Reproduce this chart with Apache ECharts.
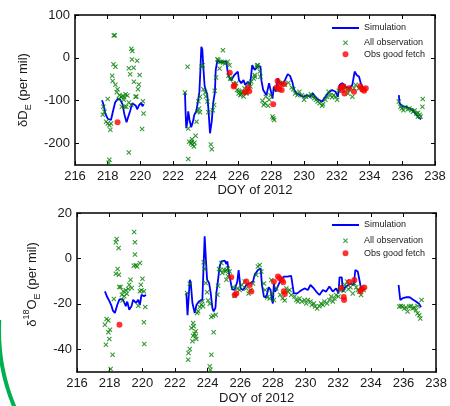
<!DOCTYPE html>
<html>
<head>
<meta charset="utf-8">
<script src="https://cdn.jsdelivr.net/npm/echarts@6/dist/echarts.min.js"></script>
<style>
  html, body { margin: 0; padding: 0; background: #fff; }
  #chart { width: 450px; height: 406px; }
</style>
</head>
<body>
<div id="chart"></div>
<script>
// tick values
const xTicks = [216, 218, 220, 222, 224, 226, 228, 230, 232, 234, 236, 238];
const dTicks = [-200, -100, 0, 100];
const oTicks = [-40, -20, 0, 20];

// --- dD panel ---
const simD1 = [[217.65,-99],[217.75,-110],[217.85,-130],[218.0,-142],[218.2,-145],[218.3,-128],[218.45,-104],[218.6,-96],[218.75,-97],[218.9,-108],[219.02,-132],[219.15,-150],[219.27,-146],[219.37,-124],[219.5,-106],[219.62,-104],[219.72,-112],[219.8,-120],[219.92,-110],[220.05,-105],[220.12,-113],[220.2,-108]];
const simD2 = [[222.72,-80],[222.76,-130],[222.8,-164],[222.86,-150],[222.92,-125],[223.0,-145],[223.1,-162],[223.2,-150],[223.3,-132],[223.42,-124],[223.52,-100],[223.6,-80],[223.66,-30],[223.72,26],[223.78,20],[223.84,-20],[223.92,-65],[224.0,-76],[224.08,-85],[224.15,-118],[224.25,-176],[224.35,-150],[224.45,-104],[224.55,-80],[224.6,-28],[224.7,-6],[224.85,-10],[225.05,-9],[225.25,-9],[225.32,-30],[225.4,-44],[225.54,-52],[225.74,-40],[225.95,-32],[226.02,-52],[226.16,-59],[226.3,-52],[226.4,-63],[226.57,-56],[226.7,-63],[226.83,-17],[226.98,-28],[227.18,-20],[227.33,-20],[227.39,-52],[227.5,-75],[227.7,-87],[227.86,-59],[227.97,-56],[228.07,-95],[228.15,-67],[228.28,-79],[228.38,-48],[228.48,-56],[228.63,-63],[228.83,-52],[229.0,-38],[229.14,-42],[229.28,-56],[229.4,-75],[229.55,-83],[229.76,-87],[229.96,-91],[230.17,-87],[230.37,-91],[230.54,-83],[230.68,-91],[230.89,-98],[231.1,-102],[231.3,-91],[231.5,-81],[231.71,-75],[231.92,-79],[232.06,-91],[232.18,-63],[232.33,-59],[232.53,-67],[232.74,-71],[232.95,-63],[233.09,-32],[233.21,-40],[233.36,-44],[233.46,-59],[233.56,-67],[233.67,-71]];
const simD3 = [[235.79,-87],[235.83,-106],[236.03,-114],[236.24,-114],[236.44,-118],[236.65,-122],[236.86,-133],[237.06,-141],[237.16,-143]];
const obsD = [
  [218.37,52],[218.43,53],[219.44,21],[219.5,16],[218.47,-21],[218.35,-15],[219.48,-4],[219.8,-7],[219.29,-24],[219.58,-23],[219.37,-38],[219.95,-40],[218.27,-42],[218.3,-54],[219.6,-56],[219.9,-62],[218.47,-63],[218.6,-73],[219.85,-73],[218.72,-87],[218.82,-91],[218.92,-89],[219.09,-85],[218.68,-96],[218.98,-98],[219.7,-91],[219.75,-90],[218.0,-96],[217.73,-114],[217.8,-126],[217.7,-133],[219.03,-114],[219.13,-114],[218.86,-114],[219.29,-104],[219.44,-110],[220.19,-130],[217.9,-149],[218.0,-153],[218.1,-157],[218.2,-153],[218.16,-168],[220.1,-166],[219.29,-221],[218.1,-238],[218.05,-245],[220.15,-101],[218.55,-80],[219.2,-88],[219.0,-92],
  [222.88,-21],[222.72,-81],[222.92,-165],[222.98,-196],[223.09,-200],[223.19,-203],[223.13,-196],[223.27,-207],[223.3,-198],[223.15,-190],[223.37,-182],[222.92,-236],[223.43,-149],[223.48,-126],[223.58,-118],[223.64,-127],[223.54,-101],[223.64,-91],[223.74,-21],[223.8,-17],[223.85,-73],[223.95,-81],[224.0,-90],[224.09,-102],[224.15,-127],[224.3,-202],[224.36,-213],[224.42,-122],[224.5,-110],[224.54,-77],[224.62,-46],[224.7,-3],[224.76,-5],[224.86,-9],[224.96,-9],[225.06,-11],[225.16,-13],[225.04,18],[224.83,-25],[225.38,-42],[225.48,-48],[225.9,-75],[226.0,-83],[226.1,-87],[226.2,-80],[226.3,-90],[226.47,-83],[226.55,-71],[226.72,-67],[226.92,-48],[227.0,-44],[227.13,-17],
  [225.33,-9],[225.44,-17],[225.54,-48],[225.68,-60],[225.85,-59],[226.01,-77],[226.16,-85],[226.26,-79],[226.36,-71],[226.5,-81],[226.63,-60],[226.77,-56],[226.98,-40],[227.12,-21],[227.18,-17],[227.29,-32],[227.33,-44],[227.45,-100],[227.53,-110],[227.6,-106],[227.66,-91],[227.8,-112],[227.86,-98],[227.95,-87],[228.07,-137],[228.17,-145],[228.12,-141],[228.32,-73],[228.52,-59],[228.68,-58],[228.83,-63],[229.04,-58],[229.24,-69],[229.34,-73],[229.45,-83],[229.59,-87],[229.71,-79],[229.86,-87],[230.0,-98],[230.12,-91],[230.27,-89],[230.42,-85],[230.54,-91],[230.62,-94],[230.74,-98],[230.83,-102],[230.95,-106],[231.1,-112],[231.16,-108],[231.3,-98],[231.4,-91],[231.5,-79],[231.61,-87],[231.71,-92],[231.81,-87],[231.92,-91],[232.02,-98],[232.12,-77],[232.23,-71],[232.33,-71],[232.43,-67],[232.6,-75],[232.68,-83],[232.8,-75],[232.95,-91],[233.05,-71],[233.15,-63],[233.36,-71],[233.46,-69],[233.56,-73],[233.67,-73],
  [235.79,-102],[235.89,-114],[235.97,-118],[236.07,-122],[236.18,-115],[236.34,-120],[236.44,-118],[236.55,-122],[236.65,-126],[236.75,-123],[236.86,-130],[236.96,-128],[237.06,-133],[237.12,-137],[237.23,-114],[237.25,-96],[236.96,-137]
];
const goodD = [[218.6,-150],[225.46,-35],[225.7,-67],[225.74,-64],[226.38,-80],[226.57,-70],[226.65,-78],[228.11,-108],[228.38,-54],[228.32,-69],[228.48,-73],[228.63,-75],[228.77,-61],[228.52,-63],[232.23,-69],[232.39,-66],[232.47,-83],[232.74,-71],[233.05,-79],[233.42,-66],[233.56,-74],[233.67,-77],[233.77,-71],[232.33,-75]];

// --- d18O panel ---
const simO1 = [[217.71,-14.5],[217.85,-17],[218.0,-19],[218.12,-21],[218.2,-23],[218.32,-24],[218.47,-20.4],[218.6,-18],[218.79,-17.9],[218.9,-19.5],[218.99,-21],[219.08,-19],[219.2,-22.6],[219.34,-21],[219.44,-18.2],[219.61,-19.6],[219.75,-18.2],[219.85,-20.5],[219.95,-16],[220.1,-16.7],[220.22,-16]];
const simO2 = [[222.7,-15.2],[222.74,-21],[222.77,-25],[222.85,-25.5],[222.91,-9.4],[222.97,-10.8],[223.07,-19.6],[223.21,-24],[223.32,-20.4],[223.48,-18.9],[223.6,-19],[223.68,-18.2],[223.76,-2],[223.82,9.7],[223.885,0.9],[223.97,-9.4],[224.09,-10.8],[224.19,-15.2],[224.29,-21.8],[224.37,-23.3],[224.48,-21.8],[224.54,-15.2],[224.64,-9.4],[224.74,-3.5],[224.84,-1.3],[224.95,-2],[225.05,-1],[225.15,-2.5],[225.21,-1.3],[225.29,-5.8],[225.5,-13.6],[225.65,-13.8],[225.82,-10.2],[225.9,-5.1],[226.02,-13.2],[226.17,-13.9],[226.37,-11.7],[226.58,-11],[226.78,-10.2],[226.88,-7.3],[227.08,-5.1],[227.25,-4.4],[227.33,-11.7],[227.45,-16.8],[227.6,-17.1],[227.74,-12.7],[227.86,-13.9],[227.94,-18.3],[228.0,-19.8],[228.06,-11],[228.14,-14.6],[228.27,-12.7],[228.47,-9.5],[228.67,-8],[228.88,-8],[229.12,-7.7],[229.22,-8],[229.28,-15.4],[229.49,-15.4],[229.63,-14.6],[229.77,-13.9],[229.94,-13.2],[230.14,-13.9],[230.3,-11.7],[230.51,-13.2],[230.65,-14.6],[230.85,-16.1],[231.06,-13.9],[231.26,-14.6],[231.46,-12.4],[231.67,-14.6],[231.87,-13.2],[232.02,-15.4],[232.08,-8.3],[232.22,-8.3],[232.28,-14.6],[232.42,-12.7],[232.63,-11.7],[232.79,-11],[232.95,-11.7],[233.05,-5.1],[233.2,-5.8],[233.3,-9.5],[233.4,-13.2],[233.5,-13.9]];
const simO3 = [[235.7,-11.7],[235.8,-18.3],[235.95,-17.5],[236.15,-17.1],[236.35,-17],[236.55,-18],[236.76,-19],[236.97,-20.1],[237.07,-21.5]];
const obsO = [
  [219.5,11.6],[219.55,7.1],[218.43,8.6],[218.38,7.1],[218.55,4.6],[219.55,1.7],[219.48,-3.2],[219.6,-3],[219.68,-3.5],[219.85,-2],[218.49,-4.7],[218.38,-6.7],[218.57,-7.2],[219.28,-9.4],[219.2,-11.6],[218.59,-12.6],[218.67,-12.6],[218.83,-14.5],[218.99,-14],[219.14,-13.5],[218.75,-16],[218.89,-16.7],[218.26,-17.9],[218.79,-18.5],[220.01,-9],[219.91,-11.6],[219.95,-14],[219.85,-14.5],[220.1,-14.5],[219.75,-20.8],[220.18,-21.4],[217.81,-26.7],[217.92,-27.3],[217.71,-29.2],[218.02,-31.4],[217.92,-32.5],[217.98,-35.5],[217.77,-38],[218.18,-42.4],[220.1,-28.1],[220.12,-37.7],[218.06,-48.7],[219.05,-15.5],[219.35,-13],
  [222.74,-15.2],[222.91,-11.1],[223.11,-28.4],[223.15,-29.9],[223.01,-30.6],[223.27,-32.1],[223.2,-33.2],[223.27,-34.3],[223.11,-34],[223.31,-35.5],[223.07,-36.5],[222.91,-39.9],[222.83,-41.6],[222.81,-44.6],[223.36,-24],[223.42,-23.3],[223.52,-21.4],[223.62,-20.4],[223.72,-21],[223.68,-18.9],[223.76,-1.7],[223.82,-4.7],[223.885,-10.8],[223.97,-14.9],[224.03,-18.5],[224.13,-19.9],[224.23,-25.8],[224.33,-25.2],[224.37,-32.5],[224.5,-24.8],[224.6,-16],[224.64,-12],[224.7,-4.7],[224.78,-5.2],[224.9,-6.4],[225.0,-5],[225.1,-5.7],[224.84,-2],[225.15,-9.4],[225.25,-7.9],[224.23,-42.4],[224.13,-47.5],[224.17,-49],
  [225.15,-5.1],[225.25,-4.4],[225.35,-5.8],[225.56,-12.7],[225.66,-16.5],[225.82,-13.2],[225.96,-13.9],[226.1,-11.7],[226.27,-10.2],[226.37,-13.2],[226.51,-15.4],[226.63,-13.9],[226.78,-11],[226.98,-7.3],[227.08,-3.6],[227.19,-2.9],[227.29,-5.8],[227.45,-11],[227.53,-13.9],[227.65,-17.1],[227.8,-17.6],[227.9,-9.5],[227.94,-15.4],[228.06,-18.3],[228.2,-13.2],[228.45,-16],[228.6,-17.5],[228.72,-18.5],[228.82,-13.2],[228.92,-14.6],[229.02,-13.9],[229.12,-16.1],[229.33,-16.8],[229.43,-18.3],[229.53,-19],[229.63,-17.6],[229.77,-19],[229.94,-18.3],[230.04,-19.8],[230.14,-18.3],[230.3,-19],[230.38,-20.5],[230.51,-19.8],[230.59,-21.2],[230.71,-22],[230.85,-21],[230.95,-19.8],[231.06,-20.5],[231.16,-19],[231.32,-19.8],[231.46,-18.3],[231.57,-16.8],[231.67,-19],[231.77,-17.6],[231.87,-16.1],[232.02,-16.8],[232.08,-13.9],[232.22,-12.7],[232.34,-14.2],[232.42,-11.7],[232.55,-10.2],[232.63,-13.6],[232.75,-12.7],[232.89,-15.4],[232.99,-11],[233.1,-12.7],[233.2,-13.9],[233.3,-14.6],[233.4,-16.1],[233.46,-12.7],[233.56,-13.9],
  [235.74,-21.2],[235.84,-20.9],[235.94,-21.2],[236.05,-22],[236.15,-21.6],[236.25,-23.4],[236.35,-21.2],[236.45,-20.9],[236.56,-22],[236.66,-21.6],[236.76,-22.8],[236.86,-24.2],[236.97,-25],[237.03,-26.4],[237.11,-18.3],[236.86,-20.9]
];
const goodO = [[218.6,-29.2],[225.45,-8.3],[225.66,-16.1],[225.76,-15.4],[226.37,-10.2],[226.58,-11.7],[226.68,-14.6],[228.06,-10.3],[228.31,-8],[228.41,-8.7],[228.55,-9.5],[228.63,-10.5],[228.67,-14.5],[228.73,-15.7],[232.18,-13],[232.34,-17],[232.36,-18.3],[232.69,-10.4],[232.99,-9.5],[233.36,-14.4],[233.45,-13.5],[233.6,-12.8]];

const FONT = 'Liberation Sans, Arial, sans-serif';
const TXT = '#1a1a1a';
const CROSS = 'path://M0,1.5L1.5,0L5,3.5L8.5,0L10,1.5L6.5,5L10,8.5L8.5,10L5,6.5L1.5,10L0,8.5L3.5,5Z';

// legend icons: tiny corner triangles fix the 27x10 box so the mark sits mid-sample
const BOX = 'M0,0L0.01,0L0,0.01Z M27,10L26.99,10L27,9.99Z ';
const ICON_LINE = 'path://' + BOX + 'M0,4.1H27V5.9H0Z';
const ICON_CROSS = 'path://' + BOX + 'M11,3.2L11.7,2.5L13.5,4.3L15.3,2.5L16,3.2L14.2,5L16,6.8L15.3,7.5L13.5,5.7L11.7,7.5L11,6.8L12.8,5Z';
const ICON_DOT = 'path://' + BOX + 'M10.5,5A3,3 0 1,1 16.5,5A3,3 0 1,1 10.5,5Z';

const tickStyle = (vals) => ({
  show: true, inside: true, length: 4, customValues: vals,
  lineStyle: { color: '#000', width: 1 }
});
const axisLineStyle = { onZero: false, lineStyle: { color: '#000', width: 1.5 } };

const makeX = (grid, name, gap) => [
  {
    type: 'value', gridIndex: grid, min: 216, max: 238, position: 'bottom',
    name: name, nameLocation: 'middle', nameGap: gap,
    nameTextStyle: { fontFamily: FONT, fontSize: 13, color: TXT },
    axisLine: axisLineStyle,
    axisTick: tickStyle(xTicks),
    axisLabel: { customValues: xTicks, fontFamily: FONT, fontSize: 13, color: TXT, margin: 5 },
    splitLine: { show: false }
  },
  {
    type: 'value', gridIndex: grid, min: 216, max: 238, position: 'top',
    axisLine: axisLineStyle,
    axisTick: tickStyle(xTicks),
    axisLabel: { show: false }, splitLine: { show: false }
  }
];

const makeY = (grid, min, max, ticks, name, gap, rich) => [
  {
    type: 'value', gridIndex: grid, min: min, max: max, position: 'left',
    name: name, nameLocation: 'middle', nameGap: gap, nameRotate: 90,
    nameTextStyle: { fontFamily: FONT, fontSize: 13, color: TXT, rich: rich },
    axisLine: axisLineStyle,
    axisTick: tickStyle(ticks),
    axisLabel: { customValues: ticks, fontFamily: FONT, fontSize: 13, color: TXT, margin: 5 },
    splitLine: { show: false }
  },
  {
    type: 'value', gridIndex: grid, min: min, max: max, position: 'right',
    axisLine: axisLineStyle,
    axisTick: tickStyle(ticks),
    axisLabel: { show: false }, splitLine: { show: false }
  }
];

const richBase = {
  n: { fontFamily: FONT, fontSize: 13, color: TXT, lineHeight: 20, verticalAlign: 'middle' },
  sub: { fontFamily: FONT, fontSize: 9, color: TXT, lineHeight: 9, verticalAlign: 'bottom' },
  sup: { fontFamily: FONT, fontSize: 9, color: TXT, lineHeight: 9, verticalAlign: 'top' }
};
const richO = Object.assign({}, richBase, {
  first: Object.assign({}, richBase.n, { padding: [0, 0, 0, 16] })
});

const lineSeries = (data, xi, yi) => ({
  name: 'Simulation', type: 'line', data: data, xAxisIndex: xi, yAxisIndex: yi,
  showSymbol: false, symbol: 'none', lineStyle: { color: '#0000ff', width: 1.8 },
  itemStyle: { color: '#0000ff' }, z: 2
});
const obsSeries = (data, xi, yi) => ({
  name: 'All observation', type: 'scatter', data: data, xAxisIndex: xi, yAxisIndex: yi,
  symbol: CROSS, symbolSize: 5, itemStyle: { color: '#008000' }, z: 3
});
const goodSeries = (data, xi, yi) => ({
  name: 'Obs good fetch', type: 'scatter', data: data, xAxisIndex: xi, yAxisIndex: yi,
  symbol: 'circle', symbolSize: 6, itemStyle: { color: '#ff0000' }, z: 4
});

const legendItem = (name, icon, top) => ({
  data: [{ name: name, icon: icon }], left: 332, top: top, orient: 'vertical',
  itemWidth: 27, itemHeight: 10, padding: 0, symbolKeepAspect: false,
  textStyle: { fontFamily: FONT, fontSize: 9, color: TXT }
});

const chart = echarts.init(document.getElementById('chart'), null, { renderer: 'canvas' });
chart.setOption({
  animation: false,
  backgroundColor: '#fff',
  grid: [
    { left: 75, top: 15, width: 360, height: 150 },
    { left: 77, top: 213, width: 360, height: 159 }
  ],
  xAxis: makeX(0, 'DOY of 2012', 19).concat(makeX(1, 'DOY of 2012', 20)),
  yAxis: makeY(0, -250, 100, dTicks, '{n|δD}{sub|E}{n| (per mil)}', 27, richBase)
    .concat(makeY(1, -50, 20, oTicks, '{first|δ}{sup|18}{n|O}{sub|E}{n| (per mil)}', 29, richO)),
  legend: [
    legendItem('Simulation', ICON_LINE, 23),
    legendItem('All observation', ICON_CROSS, 37.7),
    legendItem('Obs good fetch', ICON_DOT, 49.3),
    legendItem('Simulation', ICON_LINE, 220),
    legendItem('All observation', ICON_CROSS, 235.7),
    legendItem('Obs good fetch', ICON_DOT, 248.3)
  ],
  series: [
    lineSeries(simD1, 0, 0), lineSeries(simD2, 0, 0), lineSeries(simD3, 0, 0),
    obsSeries(obsD, 0, 0), goodSeries(goodD, 0, 0),
    lineSeries(simO1, 2, 2), lineSeries(simO2, 2, 2), lineSeries(simO3, 2, 2),
    obsSeries(obsO, 2, 2), goodSeries(goodO, 2, 2)
  ],
  graphic: [{
    type: 'arc', silent: true,
    shape: { cx: 199, cy: 330, r: 200, startAngle: Math.PI - 0.45, endAngle: Math.PI + 0.05 },
    style: { stroke: '#00b050', lineWidth: 4, fill: null }
  }]
});
</script>
</body>
</html>
